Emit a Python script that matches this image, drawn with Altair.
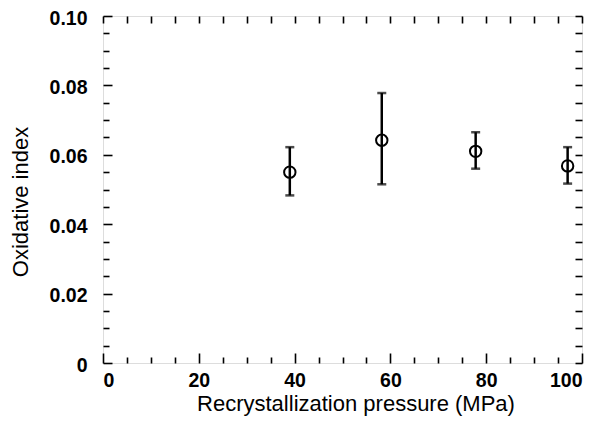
import altair as alt
import pandas as pd

pressure = [39.0, 58.2, 77.8, 97.0]
oxidative = [0.0550, 0.0642, 0.0610, 0.0568]
err_low = [0.0483, 0.0515, 0.0560, 0.0517]
err_high = [0.0622, 0.0778, 0.0665, 0.0622]

x_labels = [0, 20, 40, 60, 80, 100]
y_labels = [0, 0.02, 0.04, 0.06, 0.08, 0.10]
x_ticks = [0, 5, 10, 15, 20, 25, 30, 35, 40, 45, 50, 55, 60, 65, 70, 75, 80, 85, 90, 95, 100]
y_ticks = [0, 0.005, 0.01, 0.015, 0.02, 0.025, 0.03, 0.035, 0.04, 0.045, 0.05,
           0.055, 0.06, 0.065, 0.07, 0.075, 0.08, 0.085, 0.09, 0.095, 0.1]

df = pd.DataFrame({"p": pressure, "ox": oxidative, "lo": err_low, "hi": err_high})

W, H = 479, 347
FONT = "Liberation Sans"

xscale = alt.Scale(domain=[0, 100], nice=False, zero=False)
yscale = alt.Scale(domain=[0, 0.1], nice=False, zero=False)

x_major = {"condition": {"test": "datum.value % 20 === 0", "value": 10}, "value": 6}
y_major = {"condition": {"test": "round(datum.value * 1000) % 20 === 0", "value": 9}, "value": 6}

def tick_axis(orient, values, offset, size):
    return alt.Axis(orient=orient, offset=offset, values=values, labels=False, title=None,
                    domain=False, grid=False, ticks=True, tickSize=size,
                    tickColor="black", tickWidth=1.6)

base = alt.Chart(df)

points = base.mark_point(shape="circle", size=130, filled=False, color="black",
                         strokeWidth=2, opacity=1).encode(
    x=alt.X("p:Q", scale=xscale,
            axis=alt.Axis(orient="bottom", values=x_labels, ticks=False, tickSize=0,
                          domain=False, grid=False, labelPadding=8,
                          labelFont=FONT, labelFontSize=19.5, labelFontWeight="bold",
                          labelColor="black", title="Recrystallization pressure (MPa)",
                          titleFont=FONT, titleFontSize=22, titleFontWeight="normal",
                          titleColor="black", titlePadding=4, titleX=W / 2 + 13)),
    y=alt.Y("ox:Q", scale=yscale,
            axis=alt.Axis(orient="left", values=y_labels, ticks=False, tickSize=0,
                          domain=False, grid=False, labelPadding=16, labelOffset=2,
                          labelExpr="datum.value == 0 ? '0' : format(datum.value, '.2f')",
                          labelFont=FONT, labelFontSize=19.5, labelFontWeight="bold",
                          labelColor="black", title="Oxidative index",
                          titleFont=FONT, titleFontSize=22, titleFontWeight="normal",
                          titleColor="black", titlePadding=17, titleY=H / 2 + 12)),
)

bars = base.mark_rule(color="black", strokeWidth=2.5).encode(
    x=alt.X("p:Q", scale=xscale, axis=tick_axis("top", x_ticks, -H, x_major)),
    y=alt.Y("lo:Q", scale=yscale, axis=tick_axis("right", y_ticks, -W, y_major)),
    y2="hi:Q",
)

caps_hi = base.mark_tick(color="black", size=9, thickness=2.5, orient="horizontal").encode(
    x=alt.X("p:Q", scale=xscale, axis=tick_axis("bottom", x_ticks, -H, 7)),
    y=alt.Y("hi:Q", scale=yscale, axis=tick_axis("left", y_ticks, -W, 7)),
)

caps_lo = base.mark_tick(color="black", size=9, thickness=2.5, orient="horizontal").encode(
    x=alt.X("p:Q", scale=xscale, axis=None),
    y=alt.Y("lo:Q", scale=yscale, axis=None),
)

chart = alt.layer(bars, caps_hi, caps_lo, points).resolve_axis(
    x="independent", y="independent"
).properties(
    width=W, height=H,
    autosize=alt.AutoSizeParams(type="none"),
    padding={"left": 95, "top": 8, "right": 18, "bottom": 61},
).configure_view(stroke="black", strokeWidth=2).configure(background="white")

chart.save("out.html", embed_options={"renderer": "svg", "actions": False})
